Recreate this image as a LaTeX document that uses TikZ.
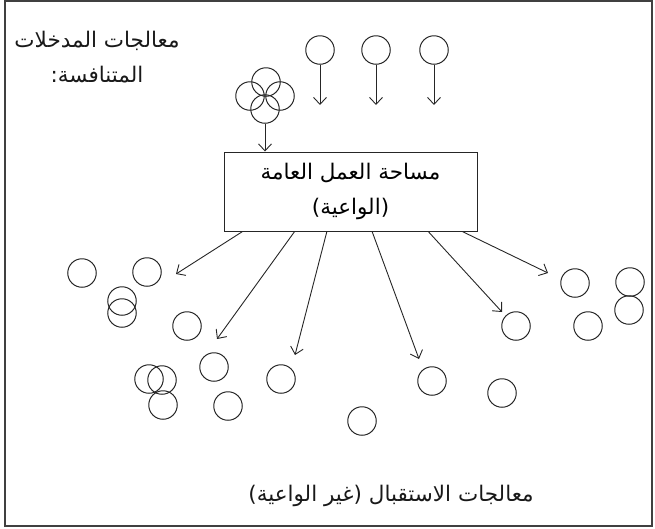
\documentclass[tikz,border=0pt]{standalone}
\usepackage{fontspec}
\usetikzlibrary{calc,arrows.meta}
\newfontfamily\arabicfont[Script=Arabic]{DejaVu Sans}
\TeXXeTstate=1

\begin{document}
\begin{tikzpicture}[x=1pt, y=-1pt, every node/.style={font={\arabicfont\fontsize{21.5}{35}\selectfont}}]
        \tikzstyle{proc}=[draw=black!85, shape=circle, minimum size=28.5pt, inner sep=0pt, line width=1pt]
        \tikzstyle{label}=[fill=none, draw=none, align=center, text=black!90]
        \tikzstyle{workspace}=[draw=black!85, line width=1pt, minimum width=253pt, minimum height=79pt, align=center, inner sep=0pt]
        \tikzstyle{arrow}=[-{Straight Barb[length=7pt, width=13pt]}, line width=0.9pt, draw=black!85]

        \useasboundingbox (0,0) rectangle (655,528);
        \draw [line width=1.3pt, black!75] (5,1) rectangle (652,526);

        % competing inputs
        \node [style=proc] (1) at (266,82) {};
        \node [style=proc] (2) at (250,96) {};
        \node [style=proc] (3) at (280,96) {};
        \node [style=proc] (4) at (265,109) {};
        \node [style=proc] (5) at (320,50) {};
        \node [style=proc] (6) at (376,50) {};
        \node [style=proc] (7) at (434,50) {};
        \coordinate (5a) at (320,105);
        \coordinate (6a) at (376,105);
        \coordinate (7a) at (434,105);

        % global workspace
        \node [style=workspace] (box) at (350.5,191.5) {\beginR مساحة العمل العامة\endR\\\beginR(الواعية)\endR};

        % receiving processors
        \node [style=proc] (10) at (82,273) {};
        \node [style=proc] (11) at (147,272) {};
        \node [style=proc] (12) at (122,301) {};
        \node [style=proc] (13) at (122,313) {};
        \node [style=proc] (14) at (187,326) {};
        \node [style=proc] (15) at (214,367) {};
        \node [style=proc] (16) at (149,379) {};
        \node [style=proc] (17) at (162,380) {};
        \node [style=proc] (18) at (163,405) {};
        \node [style=proc] (19) at (228,406) {};
        \node [style=proc] (20) at (281,379) {};
        \node [style=proc] (21) at (362,421) {};
        \node [style=proc] (22) at (432,381) {};
        \node [style=proc] (23) at (502,393) {};
        \node [style=proc] (24) at (516,326) {};
        \node [style=proc] (25) at (588,326) {};
        \node [style=proc] (26) at (575,283) {};
        \node [style=proc] (27) at (630,282) {};
        \node [style=proc] (28) at (629,310) {};

        \coordinate (t1) at (176,274);
        \coordinate (t2) at (217,339);
        \coordinate (t3) at (295,355);
        \coordinate (t4) at (419,359);
        \coordinate (t5) at (502,312);
        \coordinate (t6) at (548,273);

        \draw [style=arrow] (4.south) to (4.south |- box.north);
        \draw [style=arrow] (5.south) to (5a);
        \draw [style=arrow] (6.south) to (6a);
        \draw [style=arrow] (7.south) to (7a);

        \draw [style=arrow] ($(box.south west)!0.075!(box.south east)$) to (t1);
        \draw [style=arrow] ($(box.south west)!0.28!(box.south east)$) to (t2);
        \draw [style=arrow] ($(box.south west)!0.407!(box.south east)$) to (t3);
        \draw [style=arrow] ($(box.south west)!0.585!(box.south east)$) to (t4);
        \draw [style=arrow] ($(box.south west)!0.806!(box.south east)$) to (t5);
        \draw [style=arrow] ($(box.south west)!0.94!(box.south east)$) to (t6);

        \node [style=label] (inputs) at (97,57) {\beginR معالجات المدخلات\endR\\\beginR المتنافسة:\endR};
        \node [style=label] (receivers) at (391,496) {\beginR معالجات الاستقبال (غير الواعية)\endR};
\end{tikzpicture}
\end{document}
